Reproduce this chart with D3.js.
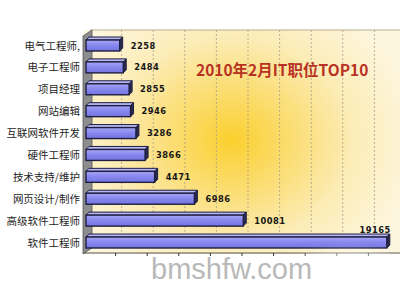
<!DOCTYPE html>
<html><head><meta charset="utf-8">
<script src="https://cdn.jsdelivr.net/npm/d3@7"></script>
<style>html,body{margin:0;padding:0;background:#fff;}svg{display:block;}</style>
</head><body>
<svg id="c" width="400" height="300"></svg>
<script>
const categories = ["电气工程师,","电子工程师","项目经理","网站编辑","互联网软件开发","硬件工程师","技术支持/维护","网页设计/制作","高级软件工程师","软件工程师"];
const values = [2258,2484,2855,2946,3286,3866,4471,6986,10081,19165];
const tickValues = [2000,4000,6000,8000,10000,12000,14000,16000,18000];
const title = "2010年2月IT职位TOP10";
const watermark = "bmshfw.com";

(function(){
const svg = d3.select("#c");
const defs = svg.append("defs");
const rg = defs.append("radialGradient").attr("id","glow")
  .attr("gradientUnits","userSpaceOnUse").attr("cx",232).attr("cy",140).attr("r",185)
  .attr("gradientTransform","translate(232,140) scale(1,0.85) translate(-232,-140)");
rg.append("stop").attr("offset","0").attr("stop-color","#fbd02e");
rg.append("stop").attr("offset","0.3").attr("stop-color","#fbdc6e");
rg.append("stop").attr("offset","0.65").attr("stop-color","#fcecb6");
rg.append("stop").attr("offset","1").attr("stop-color","#fdf6de");
const bg = defs.append("linearGradient").attr("id","barg").attr("x1",0).attr("y1",0).attr("x2",0).attr("y2",1);
bg.append("stop").attr("offset","0").attr("stop-color","#a6a6f6");
bg.append("stop").attr("offset","0.5").attr("stop-color","#8686ee");
bg.append("stop").attr("offset","1").attr("stop-color","#7474e0");
defs.append("filter").attr("id","blur").attr("x","-50%").attr("y","-50%").attr("width","200%").attr("height","200%")
  .append("feGaussianBlur").attr("stdDeviation",6);

const x = d3.scaleLinear().domain([0,20000]).range([84,400]);
const y = d3.scalePoint().domain(categories).range([45.5,242.5]);
const depth = 6, barH = 11;
const plotTop = 30, floor = 252;

svg.append("rect").attr("x",84).attr("y",plotTop).attr("width",316).attr("height",floor-plotTop+2).attr("fill","url(#glow)");
svg.append("line").attr("x1",84+depth).attr("x2",400).attr("y1",plotTop).attr("y2",plotTop).attr("stroke","#b9ae8a").attr("stroke-width",1);

svg.append("g").selectAll("line").data(tickValues).join("line")
  .attr("x1",d=>x(d)+depth).attr("x2",d=>x(d)+depth)
  .attr("y1",plotTop).attr("y2",floor-depth)
  .attr("stroke","#a8a08a").attr("stroke-width",0.8).attr("stroke-dasharray","2,2");

svg.append("path")
  .attr("d",`M83,${plotTop+depth} L${83+depth+3},${plotTop} L${83+depth+3},${floor-depth+2} L83,${floor+2} Z`)
  .attr("fill","#8d8d8d").attr("stroke","#555").attr("stroke-width",0.8);

svg.append("line").attr("x1",84).attr("x2",400).attr("y1",floor+1).attr("y2",floor+1).attr("stroke","#555").attr("stroke-width",1);
svg.append("g").selectAll("line").data(tickValues).join("line")
  .attr("x1",d=>x(d)).attr("x2",d=>x(d)).attr("y1",floor+1).attr("y2",floor+4)
  .attr("stroke","#333").attr("stroke-width",1);

const bars = svg.append("g").selectAll("g").data(values).join("g");
const x0 = x(0)+2;
bars.append("path").attr("d",(d,i)=>{
  const yc=y(categories[i]), t=yc-barH/2, r=x(d);
  return `M${x0},${t} L${x0+3},${t-3} L${r+3},${t-3} L${r},${t} Z`;
}).attr("fill","#b7b7f4").attr("stroke","#1e1e40").attr("stroke-width",1);
bars.append("path").attr("d",(d,i)=>{
  const yc=y(categories[i]), t=yc-barH/2, r=x(d);
  return `M${r},${t} L${r+3},${t-3} L${r+3},${t+barH-3} L${r},${t+barH} Z`;
}).attr("fill","#2a2a50").attr("stroke","#1e1e40").attr("stroke-width",1);
bars.append("rect")
  .attr("x",x0).attr("y",(d,i)=>y(categories[i])-barH/2)
  .attr("width",d=>x(d)-x0).attr("height",barH)
  .attr("fill","url(#barg)").attr("stroke","#1e1e40").attr("stroke-width",1.4);

bars.append("text")
  .attr("x",d=> x(d)+14 > 370 ? x(d)+4 : x(d)+11)
  .attr("y",(d,i)=> x(d)+14 > 370 ? y(categories[i])-10 : y(categories[i])+3)
  .attr("text-anchor",d=> x(d)+14 > 370 ? "end" : "start")
  .attr("font-family","DejaVu Sans").attr("font-weight","bold").attr("font-size",8.3)
  .attr("letter-spacing",0.5).attr("fill","#151515")
  .text(d=>d);

svg.append("g").selectAll("text").data(categories).join("text")
  .attr("x",80).attr("y",d=>y(d)+4).attr("text-anchor","end")
  .attr("font-family","Noto Sans CJK SC").attr("font-size",10.5).attr("fill","#1e1e1e")
  .text(d=>d);

svg.append("text").attr("x",196).attr("y",76)
  .attr("font-family","Noto Sans CJK SC").attr("font-weight","bold").attr("font-size",15.5)
  .attr("fill","#b83224").text(title);

svg.append("ellipse").attr("cx",348).attr("cy",272).attr("rx",58).attr("ry",18)
  .attr("fill","#fff").attr("opacity",0.8).attr("filter","url(#blur)");

svg.append("text").attr("x",151).attr("y",279)
  .attr("font-family","Liberation Sans").attr("font-size",29).attr("fill","#b9b9b9")
  .text(watermark);
})();
</script>
</body></html>
